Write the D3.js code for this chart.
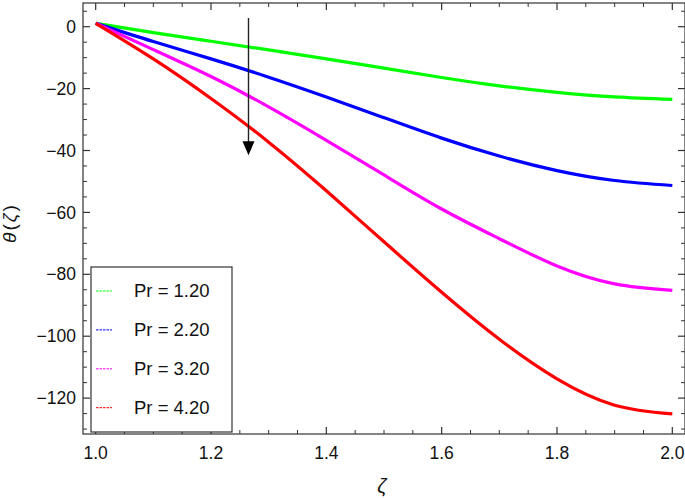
<!DOCTYPE html>
<html>
<head>
<meta charset="utf-8">
<script src="https://cdn.jsdelivr.net/npm/d3@7"></script>
<style>
  html, body { margin: 0; padding: 0; background: #fff; }
  svg { display: block; font-family: "Liberation Sans", Arial, sans-serif; }
</style>
</head>
<body>
<svg id="chart" width="685" height="498"></svg>
<script>
// values
const zeta = [1.0, 1.1, 1.2, 1.3, 1.4, 1.5, 1.6, 1.7, 1.8, 1.9, 2.0];
const pr120 = [1.1, -1.9, -4.7, -7.5, -10.4, -13.4, -16.4, -19.1, -21.2, -22.7, -23.5];
const pr220 = [1.1, -4.8, -10.4, -16.3, -22.7, -29.4, -36.0, -41.8, -46.5, -49.7, -51.3];
const pr320 = [1.1, -7.4, -16.1, -25.9, -36.7, -47.9, -58.9, -68.5, -77.3, -83.1, -85.2];
const pr420 = [1.1, -10.4, -23.2, -37.3, -53.0, -69.5, -85.8, -101.0, -113.8, -122.3, -125.1];

const seriesNames = ["Pr = 1.20", "Pr = 2.20", "Pr = 3.20", "Pr = 4.20"];
const seriesColors = ["#00ff00", "#0000ff", "#ff00ff", "#ff0000"];
const seriesValues = [pr120, pr220, pr320, pr420];

const xTicks = [1.0, 1.2, 1.4, 1.6, 1.8, 2.0];
const yTicks = [0, -20, -40, -60, -80, -100, -120];

// arrow annotation (data units)
const arrowZeta = 1.265;
const arrowFrom = 2.8;
const arrowTo = -41.5;

const width = 685, height = 498;
const margin = { top: 3, right: 0, bottom: 64, left: 83 };

const svg = d3.select("#chart");

const x = d3.scaleLinear()
  .domain([0.978, 2.022])
  .range([margin.left, width - margin.right]);

const y = d3.scaleLinear()
  .domain([-131.6, 7.66])
  .range([height - margin.bottom, margin.top]);

const fmtY = d => d < 0 ? "\u2212" + Math.abs(d) : String(d);

const minorX = d3.range(1.0, 2.0001, 0.05).map(v => +v.toFixed(2));
const minorY = d3.range(-130, 6, 5);

const frame = svg.append("g");

// frame ticks, pointing inward
function ticks(axis, vals, size, len) {
  const g = frame.append("g");
  vals.forEach(v => {
    if (axis === "bottom") {
      g.append("line").attr("x1", x(v)).attr("x2", x(v))
        .attr("y1", y.range()[0]).attr("y2", y.range()[0] - len);
    } else if (axis === "top") {
      g.append("line").attr("x1", x(v)).attr("x2", x(v))
        .attr("y1", y.range()[1]).attr("y2", y.range()[1] + len);
    } else if (axis === "left") {
      g.append("line").attr("x1", x.range()[0]).attr("x2", x.range()[0] + len)
        .attr("y1", y(v)).attr("y2", y(v));
    } else {
      g.append("line").attr("x1", x.range()[1]).attr("x2", x.range()[1] - len)
        .attr("y1", y(v)).attr("y2", y(v));
    }
  });
  g.selectAll("line").attr("stroke", "#333").attr("stroke-width", size);
}

["bottom", "top"].forEach(a => {
  ticks(a, minorX.filter(v => !xTicks.some(t => Math.abs(t - v) < 1e-6)), 1, 4);
  ticks(a, xTicks, 1.2, 7);
});
["left", "right"].forEach(a => {
  ticks(a, minorY.filter(v => v % 20 !== 0), 1, 4);
  ticks(a, yTicks, 1.2, 7);
});

frame.append("rect")
  .attr("x", x.range()[0])
  .attr("y", y.range()[1])
  .attr("width", x.range()[1] - x.range()[0])
  .attr("height", y.range()[0] - y.range()[1])
  .attr("fill", "none")
  .attr("stroke", "#333")
  .attr("stroke-width", 1.2);

// tick labels
svg.append("g").selectAll("text")
  .data(xTicks)
  .enter().append("text")
  .attr("x", d => x(d))
  .attr("y", 459)
  .attr("text-anchor", "middle")
  .attr("font-size", "17.5px")
  .attr("fill", "#111")
  .text(d => d.toFixed(1));

svg.append("g").selectAll("text")
  .data(yTicks)
  .enter().append("text")
  .attr("x", 76)
  .attr("y", d => y(d))
  .attr("dy", "0.35em")
  .attr("text-anchor", "end")
  .attr("font-size", "17.5px")
  .attr("fill", "#111")
  .text(fmtY);

// axis titles
svg.append("text")
  .attr("x", (x.range()[0] + x.range()[1]) / 2 - 2)
  .attr("y", 493)
  .attr("text-anchor", "middle")
  .attr("font-size", "20px")
  .attr("font-style", "italic")
  .attr("fill", "#111")
  .text("\u03B6");

svg.append("text")
  .attr("transform", "translate(16,223) rotate(-90)")
  .attr("text-anchor", "middle")
  .attr("font-size", "19px")
  .attr("letter-spacing", "2px")
  .attr("fill", "#111")
  .html('<tspan font-style="italic">\u03B8</tspan>(<tspan font-style="italic">\u03B6</tspan>)');

// curves
const line = d3.line()
  .x((d, i) => x(zeta[i]))
  .y(d => y(d))
  .curve(d3.curveNatural);

svg.append("g").selectAll("path")
  .data(seriesValues)
  .enter().append("path")
  .attr("d", line)
  .attr("fill", "none")
  .attr("stroke", (d, i) => seriesColors[i])
  .attr("stroke-width", 3.2)
  .attr("stroke-linejoin", "round");

// arrow
svg.append("line")
  .attr("x1", x(arrowZeta)).attr("x2", x(arrowZeta))
  .attr("y1", y(arrowFrom)).attr("y2", y(arrowTo) - 12)
  .attr("stroke", "#222")
  .attr("stroke-width", 1.4);

svg.append("path")
  .attr("d", `M${x(arrowZeta) - 6},${y(arrowTo) - 14} L${x(arrowZeta) + 6},${y(arrowTo) - 14} L${x(arrowZeta)},${y(arrowTo)} Z`)
  .attr("fill", "#000");

// legend
const legend = svg.append("g");
legend.append("rect")
  .attr("x", 91).attr("y", 267)
  .attr("width", 141).attr("height", 165)
  .attr("fill", "#fff")
  .attr("stroke", "#333")
  .attr("stroke-width", 1.2);

seriesNames.forEach((name, i) => {
  const cy = 291 + i * 38.9;
  legend.append("line")
    .attr("x1", 96).attr("x2", 112)
    .attr("y1", cy).attr("y2", cy)
    .attr("stroke", seriesColors[i])
    .attr("stroke-width", 1)
    .attr("stroke-dasharray", "2.5,1");
  legend.append("text")
    .attr("x", 134)
    .attr("y", cy)
    .attr("dy", "0.35em")
    .attr("font-size", "18.5px")
    .attr("fill", "#111")
    .text(name);
});
</script>
</body>
</html>
